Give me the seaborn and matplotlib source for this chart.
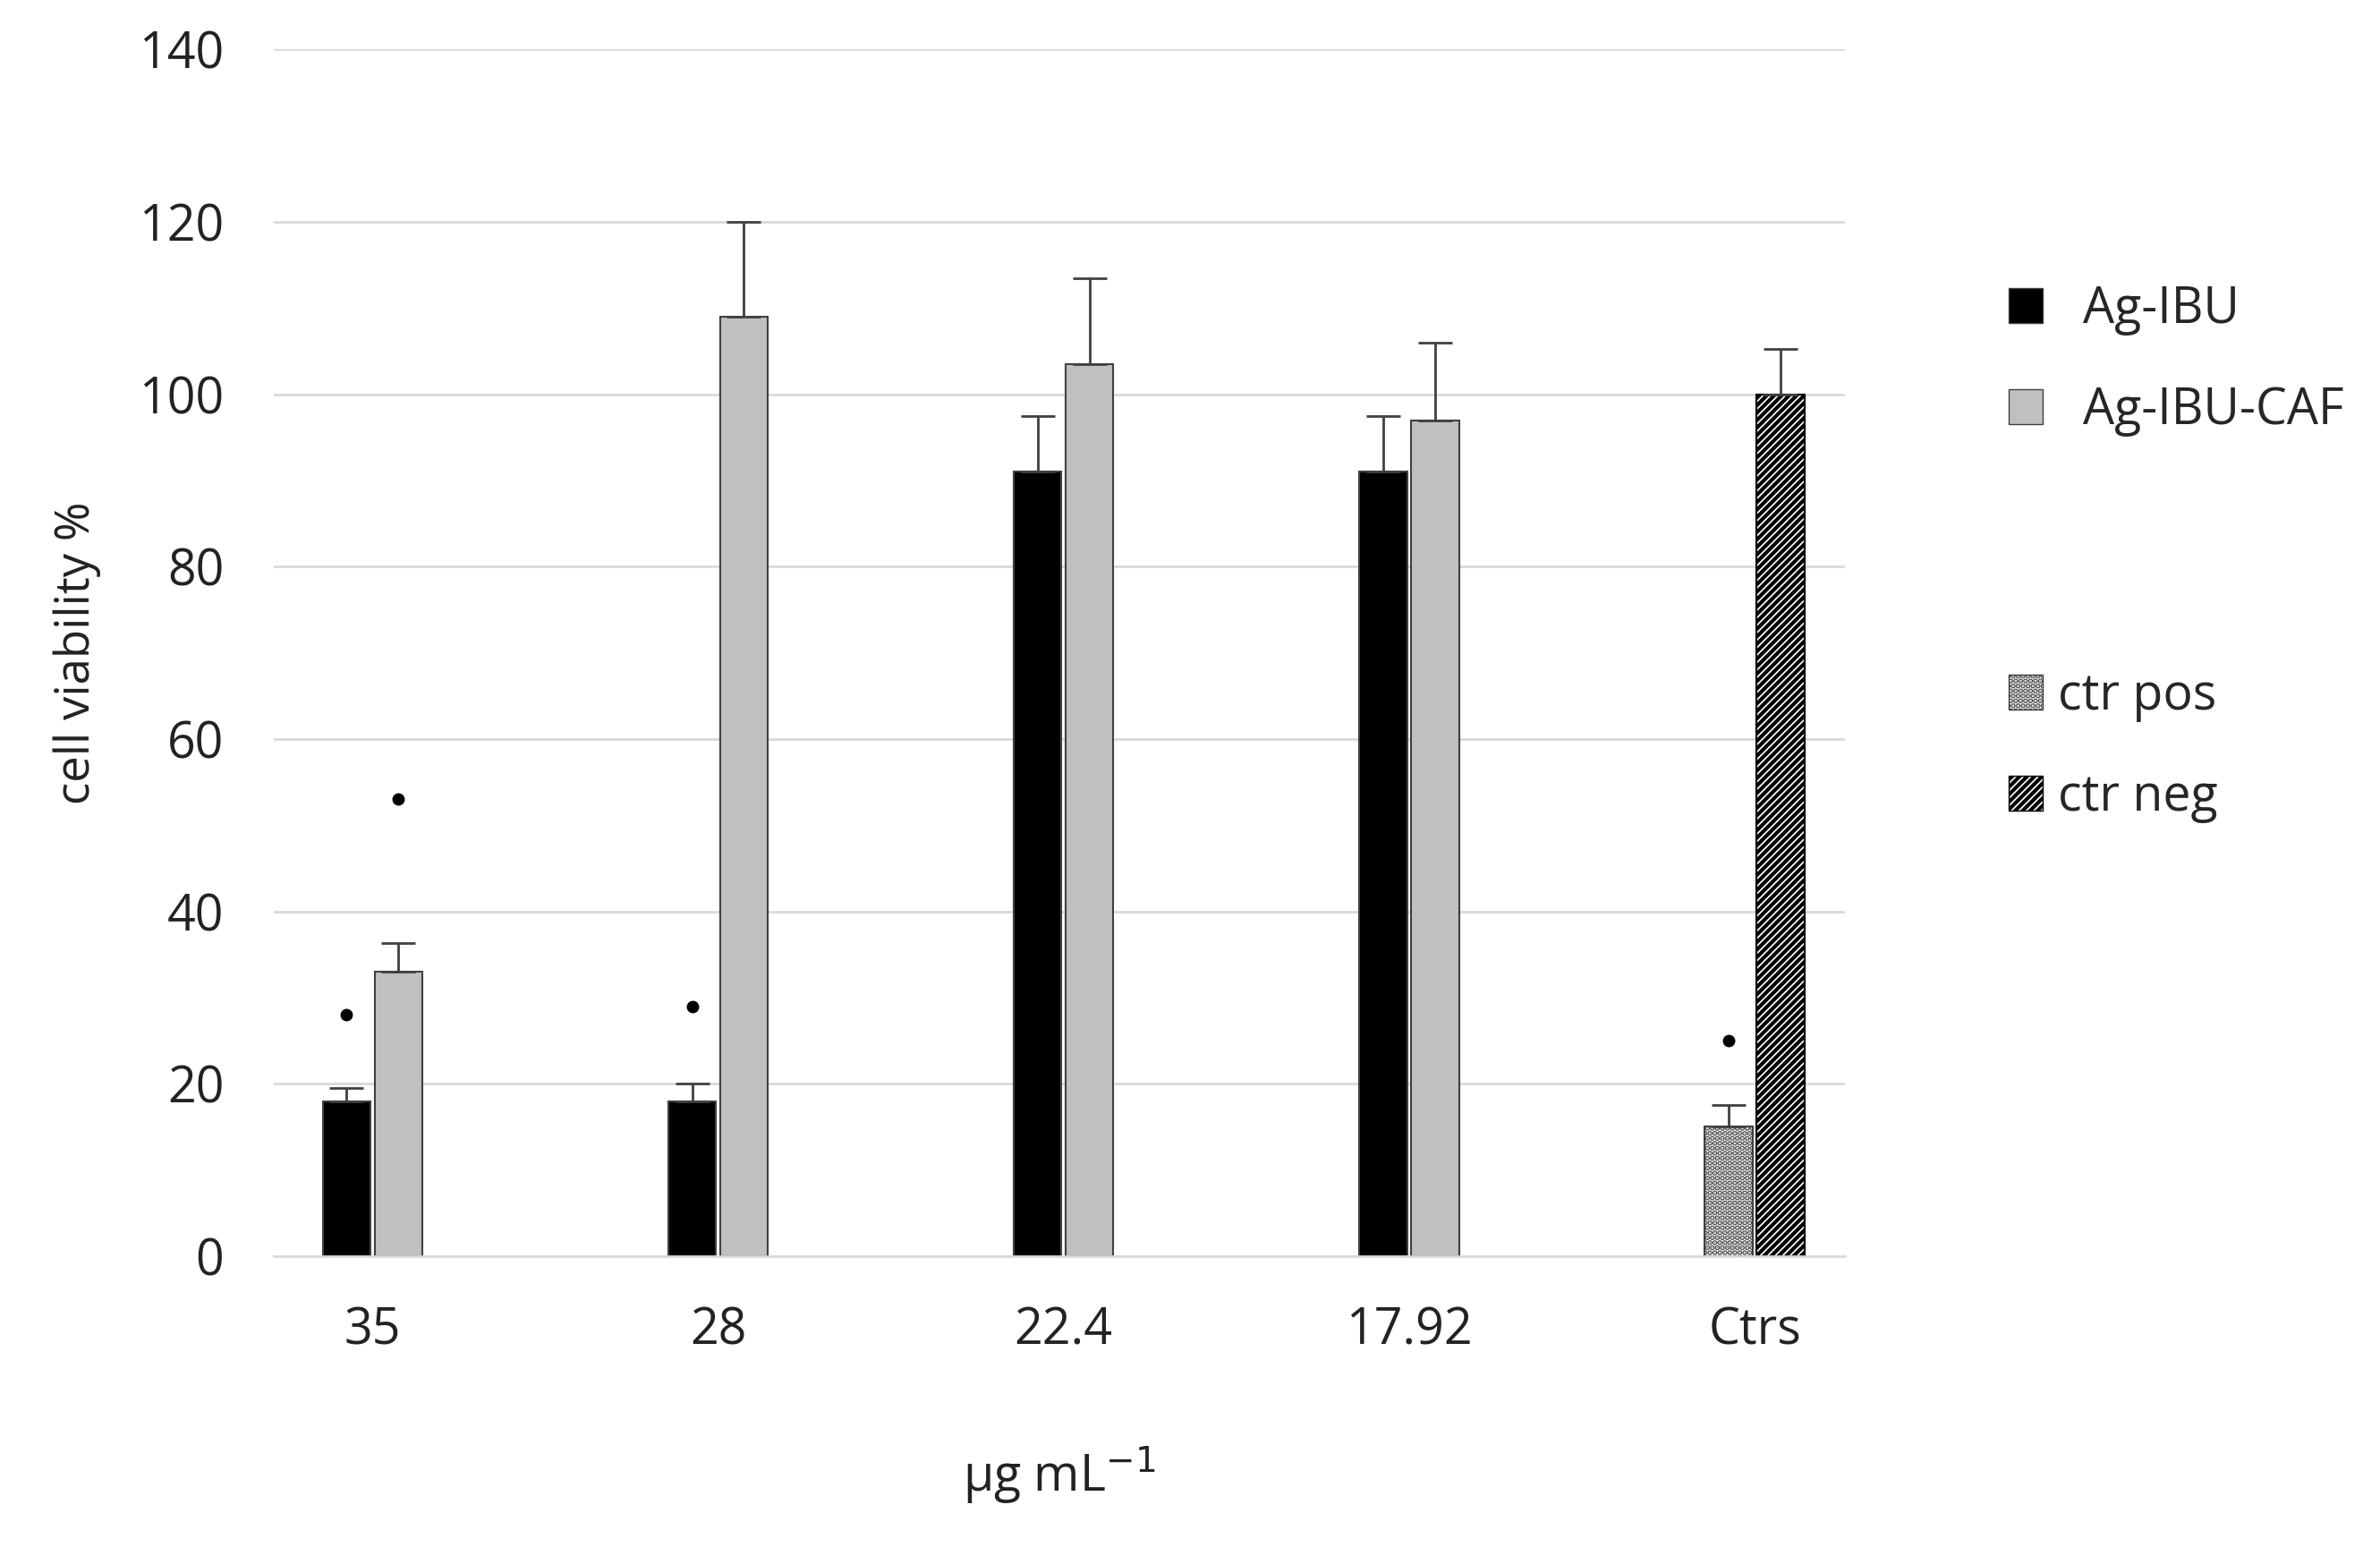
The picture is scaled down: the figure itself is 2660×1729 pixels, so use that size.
import matplotlib
matplotlib.use("Agg")
import matplotlib.pyplot as plt
import seaborn as sns
import pandas as pd
from matplotlib.patches import Patch

categories = ["35", "28", "22.4", "17.92", "Ctrs"]
left_vals = [18, 18, 91, 91, 15]      # Ag-IBU ; ctr pos at Ctrs
left_err = [1.5, 2, 6.5, 6.5, 2.5]
right_vals = [33, 109, 103.5, 97, 100]  # Ag-IBU-CAF ; ctr neg at Ctrs
right_err = [3.3, 11, 10, 9, 5.3]
star_left = [28, 29, None, None, 25]
star_right = [53, None, None, None, None]

sns.set_theme(style="white")
plt.rcParams['font.family'] = ['Open Sans', 'DejaVu Sans']
plt.rcParams['hatch.linewidth'] = 3

df = pd.DataFrame({
    "cat": categories * 2,
    "side": ["L"] * 5 + ["R"] * 5,
    "val": left_vals + right_vals,
})

fig = plt.figure(figsize=(26.6, 17.29), dpi=100)
ax = fig.add_axes([0.115, 0.188, 0.66, 0.78])
sns.barplot(data=df, x="cat", y="val", hue="side", order=categories,
            hue_order=["L", "R"], palette={"L": "black", "R": "#c0c0c0"},
            width=0.3, gap=0.08, errorbar=None, ax=ax, legend=False,
            edgecolor="#404040", linewidth=1.5)

bars = [p for p in ax.patches if p.get_height() > 0]
bars.sort(key=lambda p: p.get_x())
errs = []
stars = []
for i in range(5):
    errs += [left_err[i], right_err[i]]
    stars += [star_left[i], star_right[i]]
for j, (p, e, s) in enumerate(zip(bars, errs, stars)):
    xc = p.get_x() + p.get_width() / 2
    h = p.get_height()
    ax.errorbar([xc], [h], yerr=[[0], [e]], fmt="none", ecolor="#404040",
                elinewidth=2, capsize=14, capthick=2)
    if s is not None:
        ax.plot([xc], [s], "o", color="black", markersize=9)
pos, neg = bars[8], bars[9]
pos.set_facecolor("white"); pos.set_hatch("..."); pos.set_edgecolor("#404040")
neg.set_facecolor("white"); neg.set_hatch("////"); neg.set_edgecolor("black")

ax.set_ylim(0, 140)
ax.set_yticks(range(0, 141, 20))
ax.set_xlim(-0.286, 4.26)
ax.yaxis.grid(True, color="#d9d9d9", linewidth=2)
ax.set_axisbelow(True)
for s in ["top", "right", "left"]:
    ax.spines[s].set_visible(False)
ax.spines["bottom"].set_color("#d9d9d9")
ax.spines["bottom"].set_linewidth(2)
ax.tick_params(axis="y", labelsize=40, colors="#222222", length=0, pad=40)
ax.tick_params(axis="x", labelsize=40, colors="#222222", length=0, pad=40)
ax.set_xlabel("µg mL$^{-1}$", fontsize=40, color="#222222", labelpad=70)
ax.set_ylabel("cell viability %", fontsize=38, color="#222222", labelpad=30)

h1 = [Patch(facecolor="black", edgecolor="#404040", label="Ag-IBU"),
      Patch(facecolor="#c0c0c0", edgecolor="#404040", label="Ag-IBU-CAF")]
h2 = [Patch(facecolor="white", edgecolor="#404040", hatch="...", label="ctr pos"),
      Patch(facecolor="white", edgecolor="black", hatch="////", label="ctr neg")]
fig.legend(handles=h1, loc="upper left", bbox_to_anchor=(0.825, 0.845),
           frameon=False, fontsize=40, handlelength=0.7, handleheight=0.7,
           labelspacing=1.0, handletextpad=0.8)
fig.legend(handles=h2, loc="upper left", bbox_to_anchor=(0.825, 0.595),
           frameon=False, fontsize=40, handlelength=0.7, handleheight=0.7,
           labelspacing=1.0, handletextpad=0.3)
fig.savefig("out.png", dpi=100)
